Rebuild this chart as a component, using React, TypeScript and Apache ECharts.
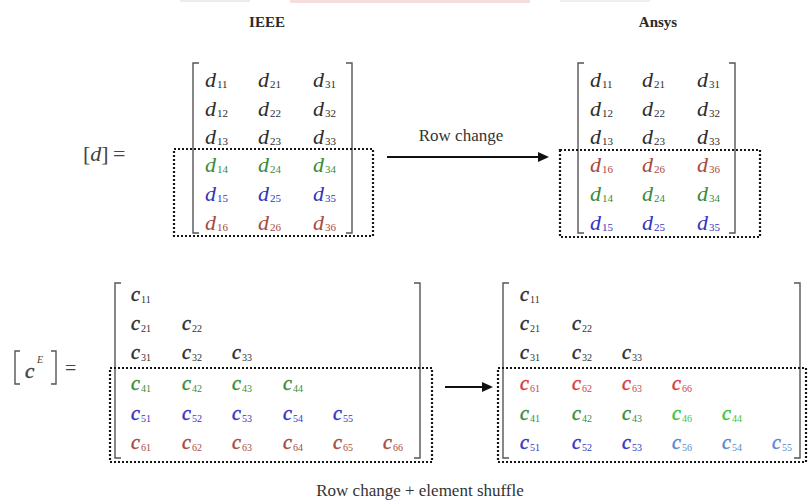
import React, { useEffect, useRef } from "react";
import * as echarts from "echarts";

// ---- data ----
const headers = ["IEEE", "Ansys"];
const topArrowLabel = "Row change";
const bottomCaption = "Row change + element shuffle";

const dIEEE: string[][] = [
  ["11", "21", "31"],
  ["12", "22", "32"],
  ["13", "23", "33"],
  ["14", "24", "34"],
  ["15", "25", "35"],
  ["16", "26", "36"],
];
const dIEEEColors = ["k", "k", "k", "g", "b", "r"];

const dAnsys: string[][] = [
  ["11", "21", "31"],
  ["12", "22", "32"],
  ["13", "23", "33"],
  ["16", "26", "36"],
  ["14", "24", "34"],
  ["15", "25", "35"],
];
const dAnsysColors = ["k", "k", "k", "r", "g", "b"];

const cIEEE: string[][] = [
  ["11"],
  ["21", "22"],
  ["31", "32", "33"],
  ["41", "42", "43", "44"],
  ["51", "52", "53", "54", "55"],
  ["61", "62", "63", "64", "65", "66"],
];
const cIEEEColors: string[][] = [
  ["k"],
  ["k", "k"],
  ["k", "k", "k"],
  ["g", "g", "g", "g"],
  ["b", "b", "b", "b", "b"],
  ["r", "r", "r", "r", "r", "r"],
];

const cAnsys: string[][] = [
  ["11"],
  ["21", "22"],
  ["31", "32", "33"],
  ["61", "62", "63", "66"],
  ["41", "42", "43", "46", "44"],
  ["51", "52", "53", "56", "54", "55"],
];
const cAnsysColors: string[][] = [
  ["k"],
  ["k", "k"],
  ["k", "k", "k"],
  ["R", "R", "R", "R"],
  ["g", "g", "g", "G", "G"],
  ["b", "b", "b", "B", "B", "B"],
];

const palette: Record<string, string> = {
  k: "#2e2e2e",
  g: "#3a8c3a",
  G: "#3cc43c",
  b: "#3535bf",
  B: "#5a88d2",
  r: "#a84a3e",
  R: "#d63c3c",
};

const SERIF = '"Liberation Serif", "DejaVu Serif", serif';

function txt(x: number, y: number, text: string, size: number, color: string, opts: any = {}) {
  return {
    type: "text",
    x,
    y,
    silent: true,
    style: {
      text,
      fontFamily: SERIF,
      fontSize: size,
      fontStyle: opts.italic ? "italic" : "normal",
      fontWeight: opts.bold ? "bold" : "normal",
      fill: color,
      stroke: opts.heavy ? color : undefined,
      lineWidth: opts.heavy ? 0.5 : 0,
      align: opts.align || "left",
      verticalAlign: "middle",
    },
  };
}

function bracket(x1: number, x2: number, y1: number, y2: number, serif = 6) {
  const st = { stroke: "#555", lineWidth: 1.4, fill: "none" };
  return [
    { type: "polyline", silent: true, shape: { points: [[x1 + serif, y1], [x1, y1], [x1, y2], [x1 + serif, y2]] }, style: st },
    { type: "polyline", silent: true, shape: { points: [[x2 - serif, y1], [x2, y1], [x2, y2], [x2 - serif, y2]] }, style: st },
  ];
}

function dotted(x: number, y: number, w: number, h: number) {
  return {
    type: "rect",
    silent: true,
    shape: { x, y, width: w, height: h },
    style: { fill: "none", stroke: "#151515", lineWidth: 2.2, lineDash: [2, 2] },
  };
}

function arrow(x1: number, x2: number, y: number) {
  return [
    { type: "line", silent: true, shape: { x1, y1: y, x2: x2 - 8, y2: y }, style: { stroke: "#111", lineWidth: 1.8 } },
    { type: "polygon", silent: true, shape: { points: [[x2 - 11, y - 5], [x2, y], [x2 - 11, y + 5]] }, style: { fill: "#111" } },
  ];
}

function entries(
  letter: string,
  rows: string[][],
  colorOf: (r: number, c: number) => string,
  xs: number[],
  ys: number[],
  size: number,
  subSize: number,
  subDx: number,
  subDy: number,
  heavy: boolean
) {
  const out: any[] = [];
  rows.forEach((row, r) => {
    row.forEach((sub, c) => {
      const col = palette[colorOf(r, c)];
      out.push(txt(xs[c], ys[r], letter, size, col, { italic: true, heavy }));
      out.push(txt(xs[c] + subDx, ys[r] + subDy, sub, subSize, col));
    });
  });
  return out;
}

export default function App() {
  const ref = useRef<HTMLDivElement>(null);
  useEffect(() => {
    const chart = echarts.init(ref.current!, null, { renderer: "svg", width: 808, height: 503 });

    const dRowsY = [79, 108, 136, 164, 193, 222];
    const cRowsY = [294, 323, 352, 383, 413, 442];

    const elements: any[] = [];

    // faint remnant strip at the very top
    elements.push({ type: "rect", silent: true, shape: { x: 290, y: 0, width: 240, height: 3 }, style: { fill: "#f6dede" } });
    elements.push({ type: "rect", silent: true, shape: { x: 180, y: 0, width: 70, height: 2 }, style: { fill: "#ececec" } });
    elements.push({ type: "rect", silent: true, shape: { x: 560, y: 0, width: 90, height: 2 }, style: { fill: "#efefef" } });

    // headers
    elements.push(txt(267, 22, headers[0], 15, "#2a2a2a", { bold: true, align: "center" }));
    elements.push(txt(658, 22, headers[1], 15, "#2a2a2a", { bold: true, align: "center" }));

    // [d] =
    elements.push({
      type: "text",
      x: 83,
      y: 153,
      silent: true,
      style: {
        text: "{a|[}{b|d}{a|]\u2009=}",
        fontFamily: SERIF,
        fontSize: 22,
        fill: "#444",
        verticalAlign: "middle",
        rich: {
          a: { fontFamily: SERIF, fontSize: 22, fill: "#444" },
          b: { fontFamily: SERIF, fontSize: 22, fontStyle: "italic", fill: "#444" },
        },
      },
    });

    // [c^E] =
    elements.push(...bracket(15, 56, 351, 384, 5));
    elements.push(txt(25, 371, "c", 21, "#444", { italic: true, heavy: true }));
    elements.push(txt(37, 359, "E", 10, "#444", { italic: true }));
    elements.push(txt(65, 368, "=", 20, "#444"));

    // upper matrices
    elements.push(...bracket(193, 352, 63, 233));
    elements.push(...bracket(578, 735, 63, 233));
    elements.push(...entries("d", dIEEE, (r) => dIEEEColors[r], [205, 258, 313], dRowsY, 22, 11, 12, 5, false));
    elements.push(...entries("d", dAnsys, (r) => dAnsysColors[r], [590, 642, 697], dRowsY, 22, 11, 12, 5, false));
    elements.push(dotted(174, 149, 199, 87));
    elements.push(dotted(560, 150, 200, 87));

    // upper arrow + label
    elements.push(...arrow(387, 549, 157));
    elements.push(txt(461, 135, topArrowLabel, 17, "#333", { align: "center" }));

    // lower matrices
    elements.push(...bracket(115, 420, 283, 458));
    elements.push(...bracket(503, 800, 283, 458));
    elements.push(
      ...entries("c", cIEEE, (r, c) => cIEEEColors[r][c], [131, 182, 232, 283, 333, 383], cRowsY, 20, 10, 10, 5, true)
    );
    elements.push(
      ...entries("c", cAnsys, (r, c) => cAnsysColors[r][c], [520, 572, 622, 672, 722, 772], cRowsY, 20, 10, 10, 5, true)
    );
    elements.push(dotted(110, 368, 322, 94));
    elements.push(dotted(498, 368, 308, 94));

    // lower arrow + caption
    elements.push(...arrow(445, 493, 387));
    elements.push(txt(420, 490, bottomCaption, 17, "#333", { align: "center" }));

    chart.setOption({
      animation: false,
      backgroundColor: "#ffffff",
      graphic: { elements },
    });
    return () => chart.dispose();
  }, []);
  return (
    <div
      ref={ref}
      style={{ position: "absolute", left: 0, top: 0, width: 808, height: 503, background: "#fff" }}
    />
  );
}
